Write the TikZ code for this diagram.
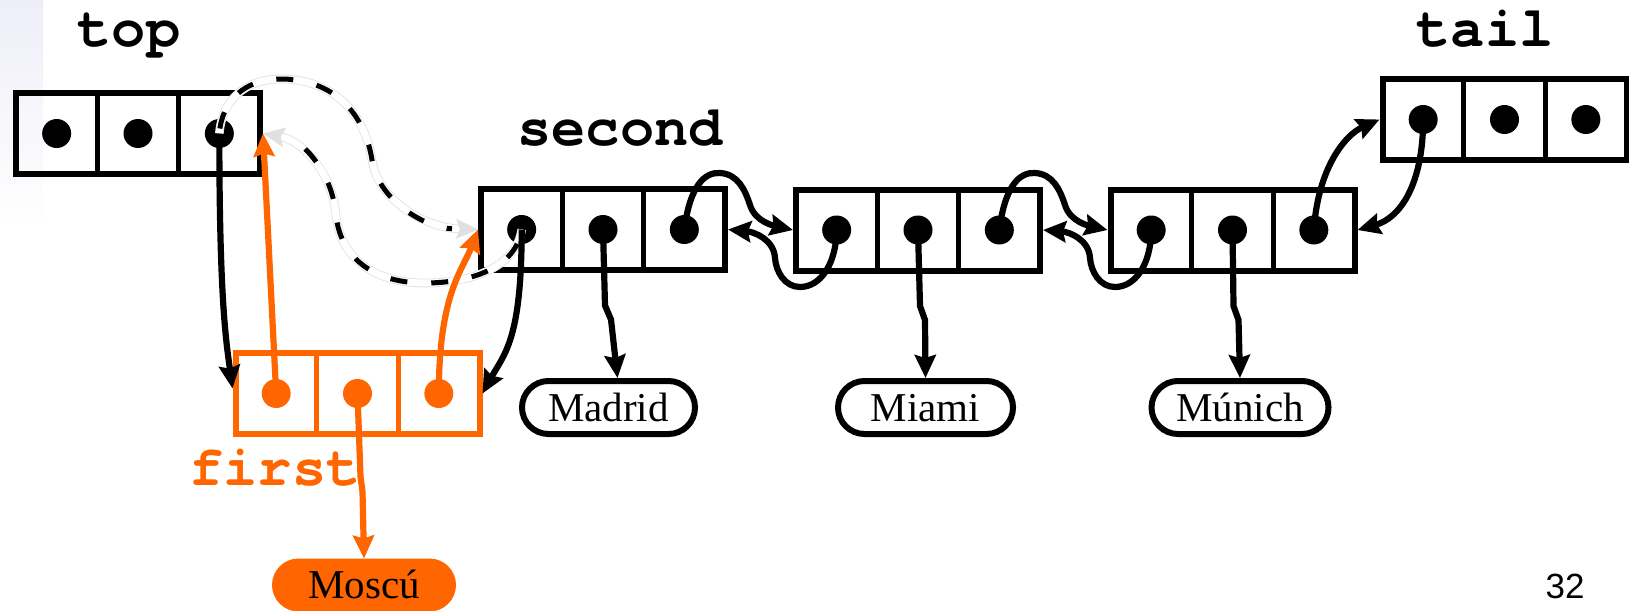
\documentclass[tikz,border=0pt]{standalone}
\usepackage{fontspec}
\setmainfont{Liberation Serif}
\newfontfamily\codefont{texgyrecursor}[Extension=.otf, UprightFont=*-regular, BoldFont=*-bold, Ligatures=NoCommon]
\newfontfamily\pagefont{Liberation Sans}
\usetikzlibrary{arrows.meta}
\definecolor{listorange}{HTML}{FF6600}
\definecolor{lavband}{HTML}{EEEEF8}

% A three-field list record: name, centre x, centre y, colour
\newcommand{\record}[4]{%
  \node[cellrow, draw=#4] (#1) at (#2,#3) {};
  \draw[#4, line width=5pt] ([xshift=-40.67pt]#1.north) -- ([xshift=-40.67pt]#1.south);
  \draw[#4, line width=5pt] ([xshift=40.67pt]#1.north) -- ([xshift=40.67pt]#1.south);
  \node[dot, fill=#4] (#1-1) at ([xshift=-81.33pt]#1.center) {};
  \node[dot, fill=#4] (#1-2) at (#1.center) {};
  \node[dot, fill=#4] (#1-3) at ([xshift=81.33pt]#1.center) {};
}

\begin{document}
\begin{tikzpicture}[x=1pt, y=-1pt,
  cellrow/.style={rectangle, line width=6pt, minimum width=244pt, minimum height=81pt,
    inner sep=0pt, outer sep=3pt},
  dot/.style={circle, draw=none, inner sep=0pt, minimum size=29pt},
  pill/.style={rectangle, draw, line width=6pt, rounded corners=26.5pt, minimum height=53pt,
    minimum width=#1, inner sep=0pt, outer sep=3pt, text height=27pt, text depth=0pt,
    font=\fontsize{41}{45}\selectfont},
  varname/.style={anchor=base, inner sep=0pt, font=\codefont\bfseries\fontsize{57}{60}\selectfont},
  link/.style={draw=black, line width=6.2pt, -{Stealth[length=23pt,width=21pt,inset=3pt]}},
  olink/.style={link, draw=listorange},
  ghost/.style={draw=black!12, line width=0.8pt, double=white, double distance=7pt,
    -{Stealth[length=22pt,width=20pt,inset=4pt]}},
  ghostdash/.style={draw=black, line width=5pt, dash pattern=on 17pt off 24pt, shorten >=26pt}
]
\useasboundingbox (0,0) rectangle (1629,610);

% faint slide band on the left edge
\shade[top color=lavband, bottom color=white, draw=none] (0,0) rectangle (43,230);

% records
\record{top}{138}{133.5}{black}
\record{second}{603}{229.5}{black}
\record{third}{918}{230}{black}
\record{fourth}{1232.5}{230}{black}
\record{tail}{1504.5}{119.5}{black}
\record{first}{357.5}{393.5}{listorange}

% values
\node[pill=173pt] (madrid) at (608.5,407.5) {Madrid};
\node[pill=175pt] (miami) at (925.5,407.5) {Miami};
\node[pill=177pt] (munich) at (1240,407.5) {Múnich};
\node[pill=184pt, draw=none, fill=listorange, outer sep=0pt] (moscu) at (364,585) {Moscú};

% variable names
\node[varname] (lbltop) at (129,47) {top};
\node[varname] (lblsecond) at (620,145) {second};
\node[varname] (lbltail) at (1485,47) {tail};
\node[varname, text=listorange] (lblfirst) at (275,485) {first};
\node[anchor=base, inner sep=0pt, font=\pagefont\fontsize{35}{40}\selectfont] (pagenum) at (1565,598) {32};

% former links between top and second (removed)
\draw[ghost] (top-3.center) .. controls (222,100) and (245,80) .. (278,79)
  .. controls (335,78) and (365,115) .. (372,160)
  .. controls (378,200) and (425,228) .. (second.west);
\draw[ghostdash, dash phase=36pt] (top-3.center) .. controls (222,100) and (245,80) .. (278,79)
  .. controls (335,78) and (365,115) .. (372,160)
  .. controls (378,200) and (425,228) .. (second.west);
\draw[ghost] (second-1.center) .. controls (516,268) and (470,283) .. (425,283)
  .. controls (370,283) and (340,255) .. (336,215)
  .. controls (332,170) and (300,140) .. (top.east);
\draw[ghostdash, dash phase=26pt] (second-1.center) .. controls (516,268) and (470,283) .. (425,283)
  .. controls (370,283) and (340,255) .. (336,215)
  .. controls (332,170) and (300,140) .. (top.east);

% new record first
\draw[link] (top-3.center) .. controls +(0,170) and +(-6,-45) .. ([yshift=5pt]first.west);
\draw[link] (second-1.center) .. controls +(0,110) and +(22,-40) .. (first.east);
\draw[olink] (first-1.center) -- (top.east);
\draw[olink] (first-3.center) .. controls +(0,-100) and +(-15,40) .. (second.west);
\draw[olink] (first-2.center) -- ++(3,83) -- ++(2,15) -- (moscu.north);

% data pointers
\draw[link] (second-2.center) -- ++(2,76) -- ++(6,14) -- ([xshift=9pt]madrid.north);
\draw[link] (third-2.center) -- ++(2,76) -- ++(5,14) -- (miami.north);
\draw[link] (fourth-2.center) -- ++(1,76) -- ++(5,14) -- (munich.north);

% next / previous links
\draw[link] (second-3.center) .. controls (690,185) and (705,172) .. (720,173)
  .. controls (738,174) and (745,190) .. (750,205)
  .. controls (755,222) and (775,226) .. (third.west);
\draw[link] (third-1.center) .. controls (836,265) and (820,287) .. (800,287)
  .. controls (785,287) and (776,272) .. (775,258)
  .. controls (774,240) and (755,232) .. (second.east);
\draw[link] (third-3.center) .. controls (1005,185) and (1020,172) .. (1035,173)
  .. controls (1053,174) and (1060,190) .. (1065,205)
  .. controls (1070,222) and (1090,226) .. (fourth.west);
\draw[link] (fourth-1.center) .. controls (1151,265) and (1135,287) .. (1115,287)
  .. controls (1100,287) and (1091,272) .. (1090,258)
  .. controls (1089,240) and (1070,232) .. (third.east);
\draw[link] (fourth-3.center) .. controls (1318,168) and (1345,135) .. (tail.west);
\draw[link] (tail-1.center) .. controls (1423,185) and (1400,218) .. (fourth.east);
\end{tikzpicture}
\end{document}
